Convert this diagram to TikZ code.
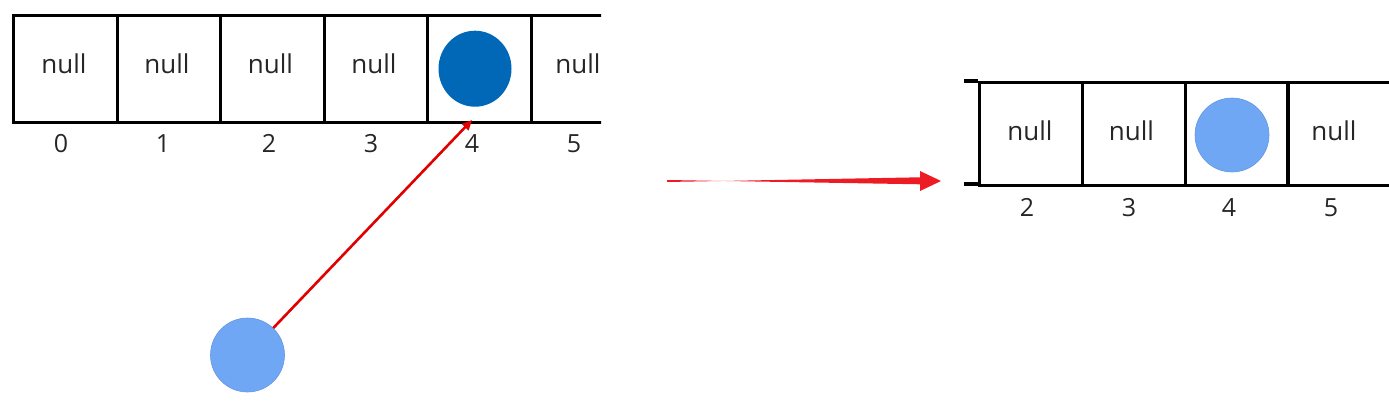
\documentclass[tikz,border=0pt]{standalone}
\usepackage{fontspec}
\setmainfont{Open Sans}
\usetikzlibrary{arrows.meta,shapes.geometric}
\definecolor{darkblue}{RGB}{0,104,183}
\definecolor{lightblue}{RGB}{112,167,245}
\definecolor{lightblueedge}{RGB}{100,150,225}
\definecolor{arrowred}{RGB}{225,0,0}
\definecolor{bigred}{RGB}{237,28,36}
\tikzset{
  cellL/.style={draw=black, line width=3.2pt, rectangle, minimum width=103.5pt, minimum height=107pt, inner sep=0pt, anchor=north west},
  cellR/.style={draw=black, line width=3.2pt, rectangle, minimum width=102.8pt, minimum height=103pt, inner sep=0pt, anchor=north west},
  nulltxt/.style={font=\fontsize{26}{28}\selectfont, text=black!85, inner sep=0pt, anchor=base},
  idxtxt/.style={font=\fontsize{25}{27}\selectfont, text=black!85, inner sep=0pt, anchor=base},
  ball/.style={circle, inner sep=0pt, minimum size=74pt},
}
\begin{document}
\begin{tikzpicture}[x=1pt,y=-1pt]
\useasboundingbox (0,0) rectangle (1389,401);
% left array
\begin{scope}
\clip (0,0) rectangle (601,401);
\node[cellL] (l0) at (12,14) {};
\node[cellL] (l1) at (115.5,14) {};
\node[cellL] (l2) at (219,14) {};
\node[cellL] (l3) at (322.5,14) {};
\node[cellL] (l4) at (426,14) {};
\node[cellL] (l5) at (529.5,14) {};
\node[nulltxt] (n0) at (64,74) {null};
\node[nulltxt] (n1) at (167,74) {null};
\node[nulltxt] (n2) at (270.5,74) {null};
\node[nulltxt] (n3) at (374,74) {null};
\node[nulltxt] (n5) at (578,74) {null};
\end{scope}
\node[idxtxt] (i0) at (61,153) {0};
\node[idxtxt] (i1) at (163,153) {1};
\node[idxtxt] (i2) at (269,153) {2};
\node[idxtxt] (i3) at (371,153) {3};
\node[idxtxt] (i4) at (472,153) {4};
\node[idxtxt] (i5) at (574,153) {5};
\node[ellipse, inner sep=0pt, fill=darkblue, minimum width=73pt, minimum height=76pt] (db) at (475,68.7) {};
% bottom ball and pointer arrow
\node[ball, fill=lightblue, draw=lightblueedge, line width=0.6pt] (bb) at (247.5,355) {};
\coordinate (tip) at (472,120);
\draw[arrowred, line width=2.6pt, -{Triangle[length=10pt,width=9pt]}] (bb) -- (tip);
% big arrow
\coordinate (bs) at (667,181);
\coordinate (be) at (941,181);
\fill[bigred] ([yshift=-1pt]bs) -- (920,177.3) -- (920,171) -- (be) -- (920,191) -- (920,184.3) -- ([yshift=1pt]bs) -- cycle;
% right array
\node[cellR] (r2) at (978,81) {};
\node[cellR] (r3) at (1080.8,81) {};
\node[cellR] (r4) at (1183.6,81) {};
\node[cellR] (r5) at (1286.4,81) {};
\draw[line width=3.2pt] (964,81) -- (978,81);
\draw[line width=3.2pt] (964,184) -- (978,184);
\node[nulltxt] (m2) at (1030,140) {null};
\node[nulltxt] (m3) at (1131.5,140) {null};
\node[nulltxt] (m5) at (1334,140) {null};
\node[ball, fill=lightblue, draw=lightblueedge, line width=0.6pt] (rb) at (1232,135) {};
\node[idxtxt] (j2) at (1027,216.5) {2};
\node[idxtxt] (j3) at (1129,216.5) {3};
\node[idxtxt] (j4) at (1229,216.5) {4};
\node[idxtxt] (j5) at (1331,216.5) {5};
\end{tikzpicture}
\end{document}
